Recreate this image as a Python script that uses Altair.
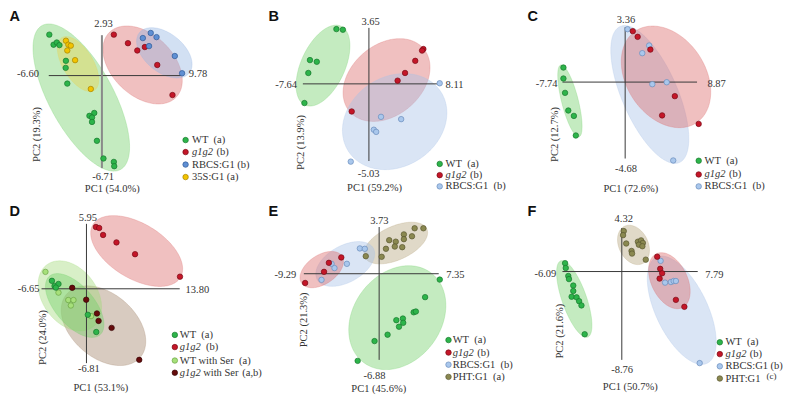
import altair as alt
import numpy as np
import pandas as pd

# ----------------------------------------------------------------- data
# points: (PC1, PC2)
A_WT = [(-6.53, 2.97), (-6.00, 2.24), (-5.60, 2.40), (-5.27, 2.21), (-4.47, 1.07), (-4.50, 0.56),
        (-4.30, -0.58), (-1.55, -2.92), (-0.95, -2.71), (-1.23, -3.04), (-1.23, -3.36), (-0.62, -4.73),
        (0.19, -6.01), (1.48, -6.26), (1.53, -6.57)]
A_G1G2 = [(1.48, 2.97), (3.23, 2.35), (4.39, 1.82), (5.33, 2.07), (6.87, 0.77), (8.76, -1.41)]
A_RBCS = [(5.08, 2.72), (6.06, 3.09), (6.78, 2.79), (5.85, 2.14), (9.05, 1.42), (9.95, 0.17)]
A_35S = [(-4.47, 2.53), (-4.17, 2.24), (-3.86, 2.17), (-4.30, 1.82), (-3.33, 1.12), (-1.38, -0.97)]

B_WT = [(-3.76, 3.57), (-3.01, 3.53), (-6.82, 1.55), (-6.03, 1.44), (-7.01, 0.71), (-7.46, -1.25)]
B_G1G2 = [(6.30, 2.27), (6.15, 2.17), (5.36, 1.50), (4.18, 0.71), (3.32, 0.21), (-1.99, -1.80)]
B_RBCS = [(8.19, 0.04), (1.40, -2.15), (3.73, -2.30), (0.57, -2.99), (0.84, -3.13), (-2.10, -5.07)]

C_WT = [(-7.62, 0.89), (-7.62, 0.22), (-7.42, -0.66), (-7.02, -1.74), (-6.33, -2.07), (-6.09, -3.27)]
C_G1G2 = [(0.94, 3.12), (1.54, 2.77), (3.11, 1.99), (6.13, -0.86), (4.56, -2.04), (9.07, -2.56)]
C_RBCS = [(0.30, 3.24), (2.96, 2.24), (2.11, 1.77), (3.35, -0.13), (5.13, -0.01), (5.93, -4.80)]

D_WT = [(-5.11, 0.73), (-4.72, 0.26), (-4.14, 0.44), (-4.53, 0.11), (0.20, -2.38), (1.45, -3.96)]
D_G1G2 = [(1.40, 5.66), (1.88, 5.57), (2.46, 4.93), (4.44, 4.25), (7.19, 3.17), (13.84, 1.11)]
D_WTSER = [(-6.07, 1.55), (-4.14, -0.35), (-2.69, -1.03), (-1.92, -1.03), (-2.31, -1.53), (0.68, -2.50)]
D_G1G2SER = [(-2.11, 0.09), (-0.04, -1.00), (1.55, -2.26), (1.79, -2.94), (3.72, -3.58), (7.81, -6.51)]

E_WT = [(7.48, -0.47), (5.67, -1.87), (4.26, -3.08), (4.53, -3.02), (2.12, -3.71), (2.93, -3.58),
        (2.97, -3.92), (2.45, -4.23), (1.04, -4.87), (-0.57, -5.38), (-2.65, -6.96)]
E_G1G2 = [(-4.67, 1.30), (-6.20, 0.87), (-6.80, 0.15), (-9.13, -0.74)]
E_RBCS = [(-2.38, 2.02), (-1.77, 1.99), (-3.98, 0.79), (-5.87, 0.79), (-5.51, 0.45), (-7.11, -0.49)]
E_PHT = [(4.38, 3.63), (5.46, 3.63), (3.05, 3.14), (4.05, 2.99), (3.05, 2.76), (1.24, 2.68),
         (2.05, 2.56), (1.93, 2.17), (2.85, 2.12), (0.84, 1.99), (-1.65, 1.40), (0.31, 1.35)]

F_WT = [(-5.82, 0.83), (-5.75, 0.35), (-5.49, -0.44), (-5.42, -0.75), (-4.98, -1.39), (-4.98, -1.93),
        (-5.15, -2.50), (-4.64, -2.56), (-4.38, -2.94), (-4.14, -3.36), (-3.81, -6.22)]
F_G1G2 = [(3.63, 1.47), (3.94, 0.27), (4.14, -0.17), (3.88, -0.70), (5.55, -2.81), (6.42, -3.50)]
F_RBCS = [(3.98, 1.06), (4.44, -1.10), (5.04, -1.04), (5.32, -0.94), (5.55, -0.94), (7.99, -9.08)]
F_PHT = [(0.20, 4.01), (0.13, 3.61), (0.45, 2.78), (1.00, 2.04), (1.05, 1.78), (1.65, 2.96),
         (1.98, 3.09), (2.16, 2.83), (1.75, 2.66), (2.11, 2.51), (2.46, 1.18)]

# confidence ellipses: (group, centre PC1, centre PC2, semi-axis a px, semi-axis b px, angle deg)
A_ELL = [("WT", -2.56, -1.59, 85, 33, 62), ("35S", -2.96, 0.84, 32, 15.5, 59),
         ("G1G2", 5.05, 0.77, 48, 31.5, 45), ("RBCSA", 7.75, 1.65, 33, 20, 40)]
B_ELL = [("WT", -5.31, 1.19, 45, 22.5, -66), ("G1G2", 2.04, 0.25, 50, 36.5, -42),
         ("RBCS", 2.98, -2.46, 56.5, 46.5, -35)]
C_ELL = [("WT", -6.82, -1.15, 38.5, 8.5, 76), ("RBCS", 3.04, -0.76, 77, 28.5, 67),
         ("G1G2", 5.04, 0.32, 57, 40.5, 58)]
D_ELL = [("G1G2", 7.43, 3.46, 52.5, 28.5, 32), ("G1G2SER", 2.52, -3.38, 50, 33, 42),
         ("WTSER", -2.46, -0.65, 40, 28, 55), ("WT", -1.74, -1.53, 40, 20, 50)]
E_ELL = [("WT", 2.24, -3.51, 58, 45, -55), ("PHT", 2.05, 2.45, 35, 17.5, -25),
         ("RBCS", -4.18, 0.78, 33, 19, -30), ("G1G2", -7.08, 0.33, 25, 15, -35)]
F_ELL = [("WT", -4.88, -2.72, 42, 12.5, 71), ("PHT", 1.20, 2.64, 21.5, 15, 65),
         ("RBCS", 6.15, -3.84, 61, 26.5, 65), ("G1G2", 4.88, -0.91, 31, 18.5, 65)]

# crosshair ends: (PC1 min, PC1 max, PC2 max, PC2 min)
A_ENDS = (-6.60, 9.78, 2.93, -6.71)
B_ENDS = (-7.64, 8.11, 3.65, -5.03)
C_ENDS = (-7.74, 8.87, 3.36, -4.68)
D_ENDS = (-6.65, 13.80, 5.95, -6.81)
E_ENDS = (-9.29, 7.35, 3.73, -6.88)
F_ENDS = (-6.09, 7.79, 4.32, -8.76)

PC_LABELS = {"A": ("PC1 (54.0%)", "PC2 (19.3%)"), "B": ("PC1 (59.2%)", "PC2 (13.9%)"),
             "C": ("PC1 (72.6%)", "PC2 (12.7%)"), "D": ("PC1 (53.1%)", "PC2 (24.0%)"),
             "E": ("PC1 (45.6%)", "PC2 (21.3%)"), "F": ("PC1 (50.7%)", "PC2 (21.6%)")}

NB = "\u00a0"
# legend rows: (group, [(text, italic, x offset px)])
LEG_A = [("WT", [("WT" + NB * 2 + "(a)", False, 0)]), ("G1G2", [("g1g2", True, 0), ("(b)", False, 25)]),
         ("RBCSA", [("RBCS:G1" + NB + "(b)", False, 0)]), ("35S", [("35S:G1" + NB + "(a)", False, 0)])]
LEG_BC = [("WT", [("WT" + NB * 2 + "(a)", False, 0)]), ("G1G2", [("g1g2", True, 0), ("(b)", False, 25)]),
          ("RBCS", [("RBCS:G1" + NB * 2 + "(b)", False, 0)])]
LEG_D = [("WT", [("WT" + NB * 2 + "(a)", False, 0)]), ("G1G2", [("g1g2", True, 0), ("(b)", False, 27)]),
         ("WTSER", [("WT with Ser" + NB * 2 + "(a)", False, 0)]),
         ("G1G2SER", [("g1g2", True, 0), ("with Ser", False, 24), ("(a,b)", False, 64)])]
LEG_E = [("WT", [("WT" + NB * 2 + "(a)", False, 0)]), ("G1G2", [("g1g2", True, 0), ("(b)", False, 25)]),
         ("RBCS", [("RBCS:G1" + NB * 2 + "(b)", False, 0)]), ("PHT", [("PHT:G1" + NB * 2 + "(a)", False, 0)])]
LEG_F = [("WT", [("WT" + NB * 2 + "(a)", False, 0)]), ("G1G2", [("g1g2", True, 0), ("(b)", False, 25)]),
         ("RBCS", [("RBCS:G1" + NB + "(b)", False, 0)]), ("PHT", [("PHT:G1", False, 0), ("(c)", False, 42)])]

# ----------------------------------------------------------------- styles
POINT_FILL = {"WT": "#2db44a", "G1G2": "#c41628", "RBCSA": "#5f8fd3", "RBCS": "#a9c7ec",
              "35S": "#f2c300", "PHT": "#8a8850", "WTSER": "#a6e07a", "G1G2SER": "#650b0b"}
POINT_STROKE = {"WT": "#17782d", "G1G2": "#7a0a16", "RBCSA": "#2f5a98", "RBCS": "#6a8dbc",
                "35S": "#a88400", "PHT": "#5a5830", "WTSER": "#6aa444", "G1G2SER": "#360404"}
ELL_FILL = {"WT": "#72cf68", "G1G2": "#db6a6a", "RBCSA": "#93b4e2", "RBCS": "#a6c2e6",
            "35S": "#e6d352", "PHT": "#b6a47c", "WTSER": "#a2d97a", "G1G2SER": "#a2836a"}

REF_W, REF_H = 265.0, 203.0
PW, PH = 259, 195
KX, KY = PW / REF_W, PH / REF_H
SERIF = "Liberation Serif"
TXT = "#333333"
FS = 10.5
PT = 30

# layout in reference-panel pixels
LAYOUT = {
    "A": dict(cross=(41.7, 176.7, 28.3, 166.7), top=(97.7, 16.7), left=(31.7, 68.3), right=(185, 68.3),
              bottom=(97.3, 175.7), pc1=(106.7, 188.3), pc2=(30, 131.7),
              legend=(181.7, 188.3, [137.5, 150, 163, 176])),
    "B": dict(cross=(36.7, 176.0, 20.7, 159.3), top=(106, 15), left=(30.7, 80), right=(182.7, 80),
              bottom=(104, 172.3), pc1=(110, 187.7), pc2=(35, 140),
              legend=(176.7, 182.7, [162.3, 174, 185.7])),
    "C": dict(cross=(37.3, 175.0, 20.0, 156.7), top=(102.3, 12.7), left=(32.3, 79.3), right=(185.7, 78.7),
              bottom=(102.3, 167.7), pc1=(107.3, 188.3), pc2=(29.3, 131.7),
              legend=(176.7, 182.7, [159, 173.3, 185.7])),
    "D": dict(cross=(34.3, 175.7, 21.7, 166.7), top=(81.7, 15.7), left=(32.3, 90), right=(181.7, 90.7),
              bottom=(82.7, 173.3), pc1=(95, 192.7), pc2=(36, 140),
              legend=(170.7, 175.7, [137.3, 150, 164, 176.7])),
    "E": dict(cross=(37.7, 175.7, 25.0, 163.3), top=(115, 18.3), left=(30, 75), right=(183.3, 75),
              bottom=(110, 180), pc1=(114.3, 193.3), pc2=(38.3, 121.7),
              legend=(185.7, 190, [142.7, 155.7, 168.3, 181])),
    "F": dict(cross=(37.3, 175.7, 26.0, 163.3), top=(100, 16.7), left=(31, 74), right=(183.3, 75),
              bottom=(98.3, 174), pc1=(106.7, 191.7), pc2=(34.3, 133.3),
              legend=(198.3, 204, [145, 157.3, 170, 182.7])),
}

PANELS = [
    ("A", A_ENDS, A_ELL, [("WT", A_WT), ("35S", A_35S), ("G1G2", A_G1G2), ("RBCSA", A_RBCS)], LEG_A),
    ("B", B_ENDS, B_ELL, [("WT", B_WT), ("G1G2", B_G1G2), ("RBCS", B_RBCS)], LEG_BC),
    ("C", C_ENDS, C_ELL, [("WT", C_WT), ("RBCS", C_RBCS), ("G1G2", C_G1G2)], LEG_BC),
    ("D", D_ENDS, D_ELL, [("WTSER", D_WTSER), ("WT", D_WT), ("G1G2SER", D_G1G2SER), ("G1G2", D_G1G2)], LEG_D),
    ("E", E_ENDS, E_ELL, [("PHT", E_PHT), ("WT", E_WT), ("RBCS", E_RBCS), ("G1G2", E_G1G2)], LEG_E),
    ("F", F_ENDS, F_ELL, [("PHT", F_PHT), ("WT", F_WT), ("RBCS", F_RBCS), ("G1G2", F_G1G2)], LEG_F),
]


def ellipse_df(cx, cy, a, b, ang, kx, ky, n=120):
    th = np.radians(ang)
    c, s = np.cos(th), np.sin(th)
    hw = np.sqrt((a * c) ** 2 + (b * s) ** 2)
    t = np.linspace(0, np.pi, n)
    dxp = -hw * np.cos(t)
    qa = s * s / a ** 2 + c * c / b ** 2
    qb = 2 * dxp * s * c * (1 / a ** 2 - 1 / b ** 2)
    qc = dxp ** 2 * (c * c / a ** 2 + s * s / b ** 2) - 1
    disc = np.sqrt(np.clip(qb * qb - 4 * qa * qc, 0, None))
    up = (-qb - disc) / (2 * qa)
    dn = (-qb + disc) / (2 * qa)
    return pd.DataFrame({"x": cx + dxp / kx, "y": cy - up / ky, "y2": cy - dn / ky})


def text_layer(text, px, py, **kw):
    opts = dict(font=SERIF, fontSize=FS, color=TXT)
    opts.update(kw)
    return alt.Chart(pd.DataFrame({"t": [text]})).mark_text(**opts).encode(
        x=alt.value(px * KX), y=alt.value(py * KY), text="t:N")


def build_panel(letter, ends, ells, groups, legend):
    L = LAYOUT[letter]
    xmin, xmax, ymax, ymin = ends
    xl, xr, yt, yb = L["cross"]
    kx = (xr - xl) / (xmax - xmin)
    ky = (yb - yt) / (ymax - ymin)
    xs = alt.Scale(domain=[xmin - xl / kx, xmax + (REF_W - xr) / kx], nice=False, zero=False)
    ys = alt.Scale(domain=[ymin - (REF_H - yb) / ky, ymax + yt / ky], nice=False, zero=False)

    def X(f):
        return alt.X(f, type="quantitative", scale=xs, axis=None)

    def Y(f):
        return alt.Y(f, type="quantitative", scale=ys, axis=None)

    layers = []
    for g, cx, cy, a, b, ang in ells:
        df = ellipse_df(cx, cy, a, b, ang, kx, ky)
        layers.append(alt.Chart(df).mark_area(
            fill=ELL_FILL[g], fillOpacity=0.42, stroke=ELL_FILL[g], strokeOpacity=0.35,
            strokeWidth=0.8).encode(x=X("x"), y=Y("y"), y2=alt.Y2("y2")))

    vcol, vw = ("#8a8a8a", 2) if letter == "A" else ("#3a3a3a", 1)
    layers.append(alt.Chart(pd.DataFrame({"x": [xmin], "x2": [xmax], "y": [0.0]})).mark_rule(
        color="#3a3a3a", strokeWidth=1).encode(x=X("x"), x2=alt.X2("x2"), y=Y("y")))
    layers.append(alt.Chart(pd.DataFrame({"x": [0.0], "y": [ymin], "y2": [ymax]})).mark_rule(
        color=vcol, strokeWidth=vw).encode(x=X("x"), y=Y("y"), y2=alt.Y2("y2")))

    rows = []
    for g, pts in groups:
        for (px, py) in pts:
            rows.append({"x": px, "y": py, "f": POINT_FILL[g], "s": POINT_STROKE[g]})
    layers.append(alt.Chart(pd.DataFrame(rows)).mark_circle(size=PT, opacity=1, strokeWidth=0.7).encode(
        x=X("x"), y=Y("y"), fill=alt.Fill("f:N", scale=None), stroke=alt.Stroke("s:N", scale=None)))

    # crosshair end labels
    layers.append(text_layer(f"{ymax:.2f}", *L["top"], align="center", baseline="middle"))
    layers.append(text_layer(f"{xmin:.2f}", *L["left"], align="right", baseline="middle"))
    layers.append(text_layer(f"{xmax:.2f}", *L["right"], align="left", baseline="middle"))
    layers.append(text_layer(f"{ymin:.2f}", *L["bottom"], align="center", baseline="middle"))
    pc1, pc2 = PC_LABELS[letter]
    layers.append(text_layer(pc1, *L["pc1"], align="center", baseline="middle"))
    layers.append(text_layer(pc2, *L["pc2"], align="center", baseline="middle", angle=270))
    layers.append(text_layer(letter, 1.5, 13.5, align="left", baseline="alphabetic",
                             font="Liberation Sans", fontWeight="bold", fontSize=14.5, color="#111111"))

    mx, tx, rys = L["legend"]
    for (g, segs), ry in zip(legend, rys):
        layers.append(alt.Chart(pd.DataFrame({"k": [g]})).mark_circle(
            size=PT, opacity=1, strokeWidth=0.7, fill=POINT_FILL[g], stroke=POINT_STROKE[g]).encode(
            x=alt.value(mx * KX), y=alt.value(ry * KY)))
        for text, italic, off in segs:
            kw = dict(align="left", baseline="middle")
            if italic:
                kw["fontStyle"] = "italic"
            if text == "(c)":
                kw["dy"] = -3
                kw["fontSize"] = 9
            layers.append(text_layer(text, tx + off, ry, **kw))

    return alt.layer(*layers).properties(width=PW, height=PH)


charts = [build_panel(*p) for p in PANELS]
row1 = alt.hconcat(*charts[:3], spacing=0).resolve_scale(x="independent", y="independent")
row2 = alt.hconcat(*charts[3:], spacing=0).resolve_scale(x="independent", y="independent")
chart = alt.vconcat(row1, row2, spacing=0).resolve_scale(
    x="independent", y="independent").properties(padding=0).configure_view(strokeWidth=0)

chart.save("out.html", embed_options={"renderer": "svg", "actions": False})
